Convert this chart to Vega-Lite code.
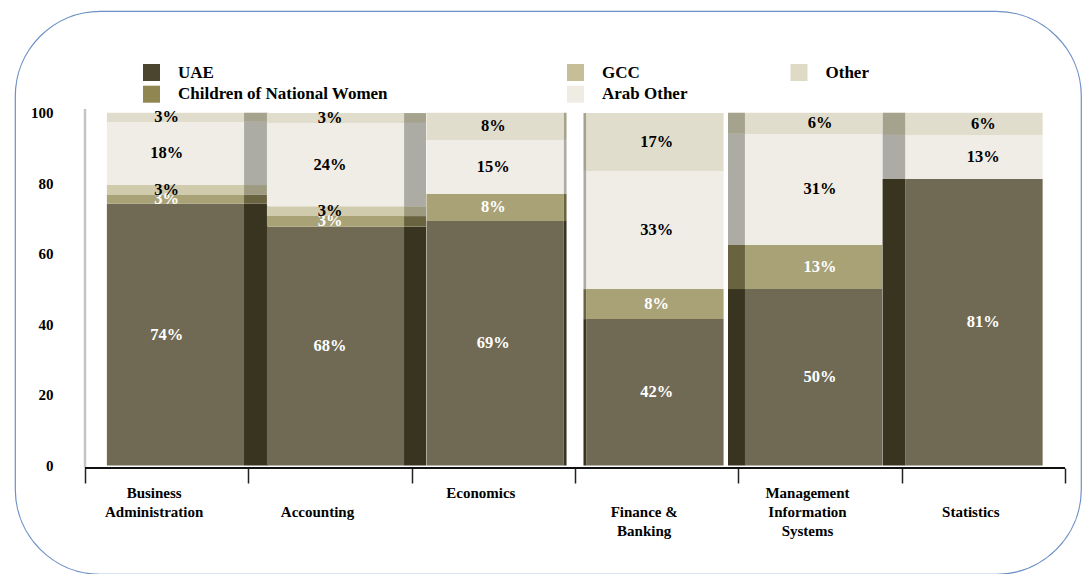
{
  "$schema": "https://vega.github.io/schema/vega-lite/v6.json",
  "width": 1066,
  "height": 563,
  "autosize": {"type": "none"},
  "padding": {"left": 15, "top": 11, "right": 1, "bottom": 0},
  "background": "white",
  "config": {
    "view": {"stroke": "#6d90c6", "strokeWidth": 1.2, "cornerRadius": 85},
    "font": "Liberation Serif"
  },
  "data": {
    "values": [
      {"major": "Business Administration", "group": "UAE", "pct": 74.2, "label": "74%", "k": 1},
      {"major": "Business Administration", "group": "Children of National Women", "pct": 2.5, "label": "3%", "k": 2},
      {"major": "Business Administration", "group": "GCC", "pct": 2.8, "label": "3%", "k": 3},
      {"major": "Business Administration", "group": "Arab Other", "pct": 17.9, "label": "18%", "k": 4},
      {"major": "Business Administration", "group": "Other", "pct": 2.6, "label": "3%", "k": 5},
      {"major": "Accounting", "group": "UAE", "pct": 67.7, "label": "68%", "k": 1},
      {"major": "Accounting", "group": "Children of National Women", "pct": 3.0, "label": "3%", "k": 2},
      {"major": "Accounting", "group": "GCC", "pct": 2.8, "label": "3%", "k": 3},
      {"major": "Accounting", "group": "Arab Other", "pct": 23.6, "label": "24%", "k": 4},
      {"major": "Accounting", "group": "Other", "pct": 2.8, "label": "3%", "k": 5},
      {"major": "Economics", "group": "UAE", "pct": 69.3, "label": "69%", "k": 1},
      {"major": "Economics", "group": "Children of National Women", "pct": 7.7, "label": "8%", "k": 2},
      {"major": "Economics", "group": "Arab Other", "pct": 15.3, "label": "15%", "k": 4},
      {"major": "Economics", "group": "Other", "pct": 7.7, "label": "8%", "k": 5},
      {"major": "Finance & Banking", "group": "UAE", "pct": 41.5, "label": "42%", "k": 1},
      {"major": "Finance & Banking", "group": "Children of National Women", "pct": 8.5, "label": "8%", "k": 2},
      {"major": "Finance & Banking", "group": "Arab Other", "pct": 33.5, "label": "33%", "k": 4},
      {"major": "Finance & Banking", "group": "Other", "pct": 16.4, "label": "17%", "k": 5},
      {"major": "Management Information Systems", "group": "UAE", "pct": 50.0, "label": "50%", "k": 1},
      {"major": "Management Information Systems", "group": "Children of National Women", "pct": 12.5, "label": "13%", "k": 2},
      {"major": "Management Information Systems", "group": "Arab Other", "pct": 31.5, "label": "31%", "k": 4},
      {"major": "Management Information Systems", "group": "Other", "pct": 6.0, "label": "6%", "k": 5},
      {"major": "Statistics", "group": "UAE", "pct": 81.2, "label": "81%", "k": 1},
      {"major": "Statistics", "group": "Arab Other", "pct": 12.5, "label": "13%", "k": 4},
      {"major": "Statistics", "group": "Other", "pct": 6.3, "label": "6%", "k": 5}
    ]
  },
  "layer": [
    {
      "mark": {
        "type": "bar",
        "width": {"expr": "datum.major === 'Business Administration' ? 24 : datum.major === 'Accounting' ? 22 : datum.major === 'Economics' ? 3 : datum.major === 'Finance & Banking' ? 3 : datum.major === 'Management Information Systems' ? 17 : 23"},
        "xOffset": {"expr": "datum.major === 'Business Administration' ? 89.3 : datum.major === 'Accounting' ? 85 : datum.major === 'Economics' ? 71.7 : datum.major === 'Finance & Banking' ? -71.7 : datum.major === 'Management Information Systems' ? -83.5 : -89.3"}
      },
      "encoding": {
        "x": {
          "field": "major", "type": "nominal", "sort": null,
          "scale": {
            "domain": ["Business Administration", "Accounting", "Economics", "Finance & Banking", "Management Information Systems", "Statistics"],
            "paddingInner": 0, "paddingOuter": 0.2633, "align": 0.814
          },
          "axis": {
            "title": null, "orient": "bottom", "offset": -106, "domain": false,
            "tickBand": "extent", "tickSize": 15, "tickColor": "#222", "tickWidth": 1.5,
            "labelAngle": 0, "labelPadding": 2, "labelOffset": -13, "labelBaseline": "top",
            "labelFont": "Liberation Serif", "labelFontWeight": "bold", "labelFontSize": 15, "labelColor": "#000",
            "labelLineHeight": 19, "labelOverlap": false, "labelLimit": 300,
            "labelExpr": "datum.value == 'Business Administration' ? ['Business', 'Administration'] : datum.value == 'Accounting' ? ['', 'Accounting'] : datum.value == 'Finance & Banking' ? ['', 'Finance &', 'Banking'] : datum.value == 'Management Information Systems' ? ['Management', 'Information', 'Systems'] : datum.value == 'Statistics' ? ['', 'Statistics'] : datum.value"
          }
        },
        "y": {
          "field": "pct", "type": "quantitative", "stack": "zero",
          "scale": {"domain": [-30.75, 128.83], "nice": false, "zero": false},
          "axis": {
            "title": null, "values": [0, 20, 40, 60, 80, 100], "grid": false, "domain": false, "ticks": false,
            "offset": -38, "labelPadding": 0,
            "labelFont": "Liberation Serif", "labelFontWeight": "bold", "labelFontSize": 15, "labelColor": "#000"
          }
        },
        "detail": {"field": "group"},
        "order": {"field": "k", "type": "quantitative", "sort": "ascending"},
        "color": {
          "condition": [
            {"test": "datum.group === 'UAE'", "value": "#38341f"},
            {"test": "datum.group === 'Children of National Women'", "value": "#6a6340"},
            {"test": "datum.group === 'GCC'", "value": "#9d9a80"},
            {"test": "datum.group === 'Arab Other'", "value": "#acaca4"}
          ],
          "value": "#a5a28d"
        }
      }
    },
    {
      "mark": {
        "type": "bar", "width": {"band": 0.84},
        "xOffset": {"expr": "datum.major === 'Business Administration' ? 8.8 : datum.major === 'Accounting' ? 5.5 : datum.major === 'Economics' ? 1.7 : datum.major === 'Finance & Banking' ? -1.7 : datum.major === 'Management Information Systems' ? -6.5 : -9.3"}
      },
      "encoding": {
        "x": {"field": "major", "type": "nominal"},
        "y": {"field": "pct", "type": "quantitative", "stack": "zero"},
        "detail": {"field": "group"},
        "order": {"field": "k", "type": "quantitative", "sort": "ascending"},
        "color": {
          "condition": [
            {"test": "datum.group === 'UAE'", "value": "#706a55"},
            {"test": "datum.group === 'Children of National Women'", "value": "#a9a277"},
            {"test": "datum.group === 'GCC'", "value": "#d1cbae"},
            {"test": "datum.group === 'Arab Other'", "value": "#f0ede7"}
          ],
          "value": "#e1ddcc"
        }
      }
    },
    {
      "mark": {"type": "text", "font": "Liberation Serif", "fontWeight": "bold", "fontSize": 16.5, "baseline": "middle", "align": "center"},
      "encoding": {
        "x": {"field": "major", "type": "nominal"},
        "y": {"field": "pct", "type": "quantitative", "stack": "zero", "bandPosition": 0.5},
        "detail": {"field": "group"},
        "order": {"field": "k", "type": "quantitative", "sort": "ascending"},
        "text": {"field": "label"},
        "color": {
          "condition": {"test": "datum.group === 'UAE' || datum.group === 'Children of National Women'", "value": "#ffffff"},
          "value": "#000000"
        }
      }
    },
    {
      "transform": [{"filter": {"field": "group", "oneOf": ["UAE", "Children of National Women"]}}],
      "mark": {"type": "point", "shape": "square", "filled": true, "opacity": 0},
      "encoding": {
        "x": {"field": "major", "type": "nominal"},
        "y": {"field": "pct", "type": "quantitative", "stack": null},
        "color": {
          "field": "group", "type": "nominal",
          "scale": {"domain": ["UAE", "Children of National Women"], "range": ["#4b4530", "#8f8652"]},
          "legend": {
            "title": null, "orient": "none", "legendX": 128, "legendY": 53, "direction": "vertical",
            "symbolType": "square", "symbolSize": 289, "symbolOpacity": 1, "symbolStrokeWidth": 0,
            "labelFont": "Liberation Serif", "labelFontWeight": "bold", "labelFontSize": 17, "labelColor": "#000",
            "labelOffset": 18, "labelLimit": 400, "rowPadding": 3.7, "padding": 0
          }
        }
      }
    },
    {
      "transform": [{"filter": {"field": "group", "oneOf": ["GCC", "Other", "Arab Other"]}}],
      "mark": {"type": "point", "shape": "square", "filled": true, "opacity": 0},
      "encoding": {
        "x": {"field": "major", "type": "nominal"},
        "y": {"field": "pct", "type": "quantitative", "stack": null},
        "fill": {
          "field": "group", "type": "nominal",
          "scale": {"domain": ["GCC", "Arab Other", "Other"], "range": ["#c6be97", "#efece3", "#dedac6"]},
          "legend": {
            "title": null, "orient": "none", "legendX": 552, "legendY": 53, "columns": 2, "columnPadding": 102.5,
            "symbolType": "square", "symbolSize": 289, "symbolOpacity": 1, "symbolStrokeWidth": 0,
            "labelFont": "Liberation Serif", "labelFontWeight": "bold", "labelFontSize": 17, "labelColor": "#000",
            "labelOffset": 18, "labelLimit": 400, "rowPadding": 3.7, "padding": 0
          }
        }
      }
    },
    {
      "data": {"values": [{"first": "Business Administration", "last": "Statistics"}]},
      "mark": {"type": "rule", "color": "#c4c4c4", "strokeWidth": 2.5, "yOffset": 2.5, "y2Offset": -3.7},
      "encoding": {
        "x": {"field": "first", "type": "nominal", "bandPosition": 0},
        "y": {"datum": 0, "type": "quantitative"},
        "y2": {"datum": 100}
      }
    },
    {
      "data": {"values": [{"first": "Business Administration", "last": "Statistics"}]},
      "mark": {"type": "rule", "color": "#111111", "strokeWidth": 2, "yOffset": 2.5},
      "encoding": {
        "x": {"field": "first", "type": "nominal", "bandPosition": 0},
        "x2": {"field": "last", "bandPosition": 1},
        "y": {"datum": 0, "type": "quantitative"}
      }
    }
  ]
}
